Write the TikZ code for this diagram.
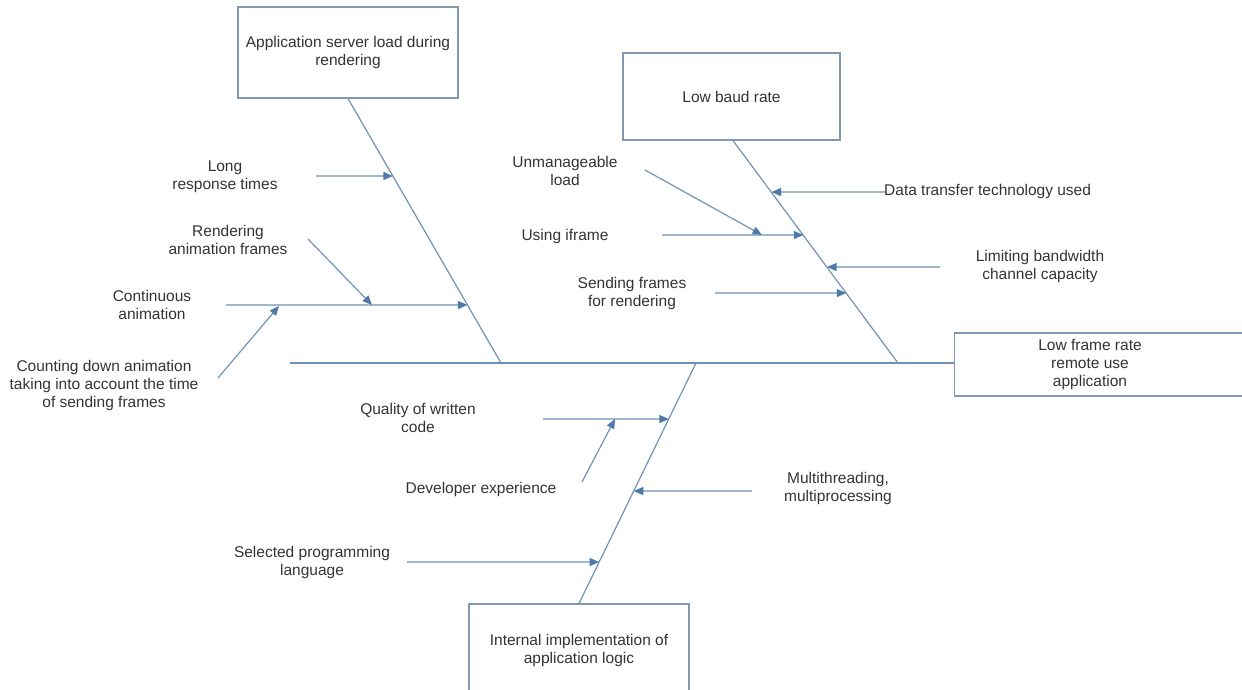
\documentclass[tikz,border=0pt]{standalone}
\usepackage{fontspec}
\setmainfont{Liberation Sans}
\usetikzlibrary{arrows.meta}
\definecolor{boneblue}{RGB}{112,146,180}
\definecolor{tipblue}{RGB}{78,122,170}
\definecolor{boxedge}{RGB}{128,152,176}
\definecolor{inktext}{RGB}{51,51,51}
\begin{document}
\begin{tikzpicture}[x=1pt,y=-1pt,
  lbl/.style={align=center, inner sep=0pt, text=inktext,
    font=\fontsize{15.5}{18}\selectfont},
  causebox/.style={draw=boxedge, line width=1.1pt, fill=white, lbl},
  bone/.style={draw=boneblue, line width=1.2pt},
  arr/.style={bone, -{Triangle[length=9.5pt,width=8pt,fill=tipblue,color=tipblue]}}
]
\useasboundingbox (0,0) rectangle (1242,689);

% category boxes and the effect box
\node[causebox, minimum width=220pt, minimum height=91pt] (server) at (348,52.5)
  {Application server load during\\rendering};
\node[causebox, minimum width=217pt, minimum height=87pt] (baud) at (731.5,96.5)
  {Low baud rate};
\node[causebox, minimum width=220pt, minimum height=92pt] (logic) at (579,650)
  {Internal implementation of\\application logic};
\node[draw=boxedge, line width=1.1pt, minimum width=300pt, minimum height=63pt,
  anchor=west, inner sep=0pt] (effect) at (954,364.5) {};
\node[lbl] (effecttext) at (1090,364.5) {Low frame rate\\remote use\\application};

% spine and main bones
\coordinate (tail) at (290,363);
\coordinate (s1) at (501,363);
\coordinate (s2) at (898,363);
\coordinate (s3) at (696,363);
\draw[bone] (tail) -- (tail -| effect.west);
\draw[bone] (server.south) -- (s1);
\draw[bone] (baud.south -| 733,0) -- (s2);
\draw[bone] (logic.north) -- (s3);

% points where the cause arrows meet the bones
\coordinate (b1a) at (intersection cs: first line={(server.south)--(s1)}, second line={(0,176)--(100,176)});
\coordinate (b1b) at (intersection cs: first line={(server.south)--(s1)}, second line={(0,305)--(100,305)});
\coordinate (b2a) at (intersection cs: first line={(733,140)--(s2)}, second line={(0,192)--(100,192)});
\coordinate (b2b) at (intersection cs: first line={(733,140)--(s2)}, second line={(0,235)--(100,235)});
\coordinate (b2c) at (intersection cs: first line={(733,140)--(s2)}, second line={(0,267)--(100,267)});
\coordinate (b2d) at (intersection cs: first line={(733,140)--(s2)}, second line={(0,293)--(100,293)});
\coordinate (b3a) at (intersection cs: first line={(logic.north)--(s3)}, second line={(0,419)--(100,419)});
\coordinate (b3b) at (intersection cs: first line={(logic.north)--(s3)}, second line={(0,491)--(100,491)});
\coordinate (b3c) at (intersection cs: first line={(logic.north)--(s3)}, second line={(0,562)--(100,562)});

% cause labels
\node[lbl] (long) at (225,177) {Long\\response times};
\node[lbl] (render) at (228,240) {Rendering\\animation frames};
\node[lbl] (contin) at (152,305) {Continuous\\animation};
\node[lbl] (countdown) at (104,385) {Counting down animation\\taking into account the time\\of sending frames};
\node[lbl] (unman) at (565,171) {Unmanageable\\load};
\node[lbl] (iframe) at (565,236) {Using iframe};
\node[lbl] (sending) at (632,293) {Sending frames\\for rendering};
\node[lbl, anchor=west] (datatech) at (884,191) {Data transfer technology used};
\node[lbl] (bandwidth) at (1040,266) {Limiting bandwidth\\channel capacity};
\node[lbl] (quality) at (418,418) {Quality of written\\code};
\node[lbl] (devexp) at (481,489) {Developer experience};
\node[lbl] (multi) at (838,488) {Multithreading,\\multiprocessing};
\node[lbl] (language) at (312,562) {Selected programming\\language};

% free ends of the cause arrows
\coordinate (longS) at (316,176);
\coordinate (continS) at (226,305);
\coordinate (renderS) at (308,239);
\coordinate (renderE) at (372,305);
\coordinate (countS) at (218,378);
\coordinate (countE) at (279,306);
\coordinate (unmanS) at (645,170);
\coordinate (unmanE) at (762,235);
\coordinate (iframeS) at (662,235);
\coordinate (dataS) at (885,192);
\coordinate (bandS) at (940,267);
\coordinate (sendS) at (715,293);
\coordinate (qualS) at (543,419);
\coordinate (devS) at (582,482);
\coordinate (devE) at (615,419);
\coordinate (multiS) at (752,491);
\coordinate (langS) at (407,562);

% cause arrows
\draw[arr] (longS) -- (b1a);
\draw[arr] (continS) -- (b1b);
\draw[arr] (renderS) -- (renderE);
\draw[arr] (countS) -- (countE);
\draw[arr] (unmanS) -- (unmanE);
\draw[arr] (iframeS) -- (b2b);
\draw[arr] (dataS) -- (b2a);
\draw[arr] (bandS) -- (b2c);
\draw[arr] (sendS) -- (b2d);
\draw[arr] (qualS) -- (b3a);
\draw[arr] (devS) -- (devE);
\draw[arr] (multiS) -- (b3b);
\draw[arr] (langS) -- (b3c);
\end{tikzpicture}
\end{document}
